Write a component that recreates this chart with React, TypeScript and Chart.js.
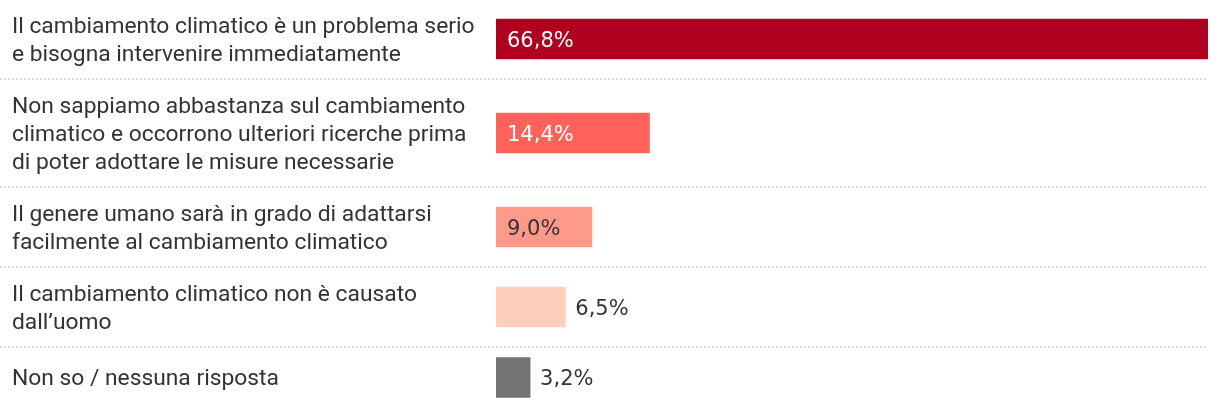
import React, { useEffect, useRef } from "react";
import { Chart, registerables } from "chart.js";

Chart.register(...registerables);

// ---- data ----
const categories: string[][] = [
  ["Il cambiamento climatico è un problema serio", "e bisogna intervenire immediatamente"],
  [
    "Non sappiamo abbastanza sul cambiamento",
    "climatico e occorrono ulteriori ricerche prima",
    "di poter adottare le misure necessarie",
  ],
  ["Il genere umano sarà in grado di adattarsi", "facilmente al cambiamento climatico"],
  ["Il cambiamento climatico non è causato", "dall’uomo"],
  ["Non so / nessuna risposta"],
];
const values: number[] = [66.8, 14.4, 9.0, 6.5, 3.2];
const valueLabels: string[] = ["66,8%", "14,4%", "9,0%", "6,5%", "3,2%"];

// ---- style ----
const barColors = ["#b0001f", "#ff625a", "#ff9a8a", "#ffcfbd", "#737373"];
const LINE_H = 28;
const ROW_PAD = 24;
const MIN_ROW = 61;
const LABEL_FONT = "22.8px Roboto";
const VALUE_FONT = "21px 'DejaVu Sans'";
const TEXT_COLOR = "#333333";

function isDark(hex: string) {
  const r = parseInt(hex.slice(1, 3), 16);
  const g = parseInt(hex.slice(3, 5), 16);
  const b = parseInt(hex.slice(5, 7), 16);
  return 0.299 * r + 0.587 * g + 0.114 * b < 165;
}

export default function App() {
  const ref = useRef<HTMLCanvasElement | null>(null);

  useEffect(() => {
    document.body.style.margin = "0";
    const canvas = ref.current;
    if (!canvas) return;

    // row layout derived from the number of label lines
    const rowHeights = categories.map((c) => Math.max(c.length * LINE_H + ROW_PAD, MIN_ROW));
    const bounds: number[] = [0];
    rowHeights.forEach((h) => bounds.push(bounds[bounds.length - 1] + h));
    const centers = rowHeights.map((h, i) => bounds[i] + h / 2);
    const total = bounds[bounds.length - 1];

    const overlay = {
      id: "overlay",
      beforeDatasetsDraw(chart: any) {
        const { ctx, chartArea } = chart;
        const ys = chart.scales.y;
        ctx.save();
        ctx.strokeStyle = "#dadada";
        ctx.lineWidth = 2;
        ctx.setLineDash([2, 2]);
        for (let i = 1; i < bounds.length - 1; i++) {
          const y = Math.round(ys.getPixelForValue(bounds[i]));
          ctx.beginPath();
          ctx.moveTo(0, y);
          ctx.lineTo(chartArea.right, y);
          ctx.stroke();
        }
        ctx.restore();
      },
      afterDatasetsDraw(chart: any) {
        const { ctx } = chart;
        const ys = chart.scales.y;
        const meta = chart.getDatasetMeta(0);
        ctx.save();
        // category labels
        ctx.font = LABEL_FONT;
        ctx.fillStyle = TEXT_COLOR;
        ctx.textAlign = "left";
        ctx.textBaseline = "alphabetic";
        categories.forEach((lines, i) => {
          const cy = ys.getPixelForValue(centers[i]);
          lines.forEach((line, j) => {
            const y = cy + (j - (lines.length - 1) / 2) * LINE_H + 7.5;
            ctx.fillText(line, 12, y);
          });
        });
        // value labels
        ctx.font = VALUE_FONT;
        meta.data.forEach((bar: any, i: number) => {
          const txt = valueLabels[i];
          const w = ctx.measureText(txt).width;
          const start = bar.base;
          const end = bar.x;
          const pad = 11;
          const inside = end - start >= w + 2 * pad;
          ctx.fillStyle = inside && isDark(barColors[i]) ? "#ffffff" : TEXT_COLOR;
          const x = inside ? start + pad : end + 10;
          ctx.fillText(txt, x, bar.y + 7.5);
        });
        ctx.restore();
      },
    };

    const chart = new Chart(canvas, {
      type: "bar",
      data: {
        datasets: [
          {
            data: values.map((v, i) => ({ x: v, y: centers[i] })) as any,
            backgroundColor: barColors,
            borderWidth: 0,
            barThickness: 40,
          },
        ],
      },
      options: {
        indexAxis: "y",
        animation: false,
        responsive: false,
        layout: { padding: { left: 496, right: 12, top: 0, bottom: 0 } },
        plugins: { legend: { display: false }, tooltip: { enabled: false } },
        scales: {
          x: { type: "linear", min: 0, max: Math.max(...values), display: false },
          y: {
            type: "linear",
            reverse: true,
            min: 1,
            max: total,
            offset: false,
            grace: 0,
            display: false,
          },
        },
      },
      plugins: [overlay],
    });

    return () => chart.destroy();
  }, []);

  return (
    <div style={{ width: 1220, height: 408, background: "#ffffff" }}>
      <canvas ref={ref} width={1220} height={408} style={{ display: "block" }} />
    </div>
  );
}
